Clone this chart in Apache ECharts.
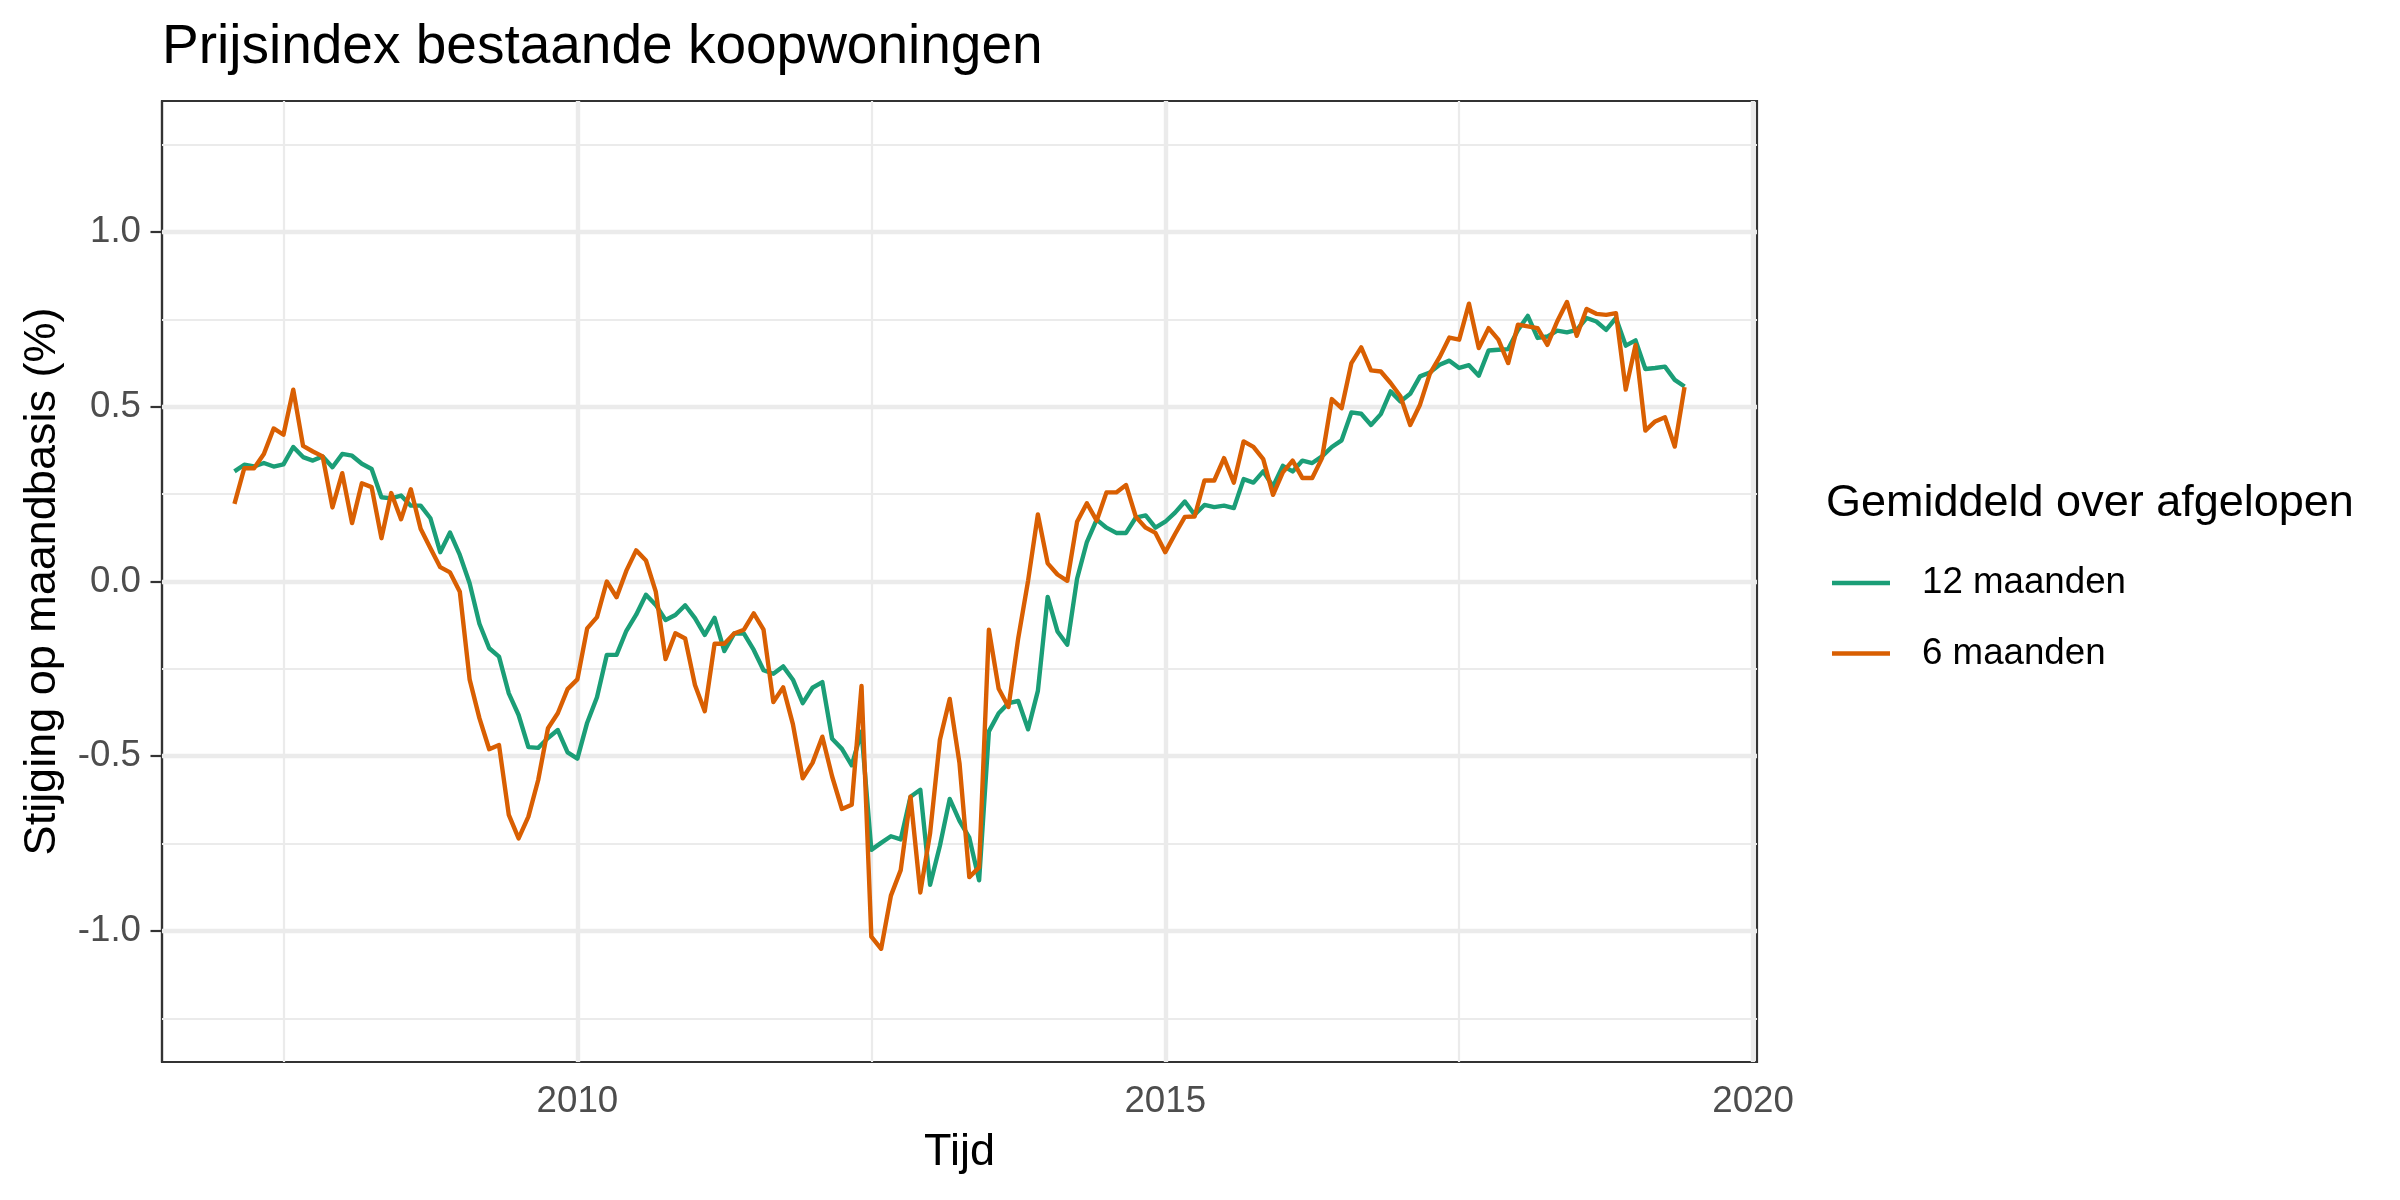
<!DOCTYPE html>
<html>
<head>
<meta charset="utf-8">
<script src="https://cdn.jsdelivr.net/npm/echarts@6/dist/echarts.min.js"></script>
<style>
html,body{margin:0;padding:0;background:#fff;}
#chart{width:2400px;height:1200px;}
</style>
</head>
<body>
<div id="chart"></div>
<script>
// Monthly series, first month Feb 2007, last month Jun 2019
const startYear = 2007;
const startMonth = 2;

const seriesNames = ['12 maanden', '6 maanden'];

const avg12 = [
  0.315, 0.334, 0.329, 0.339, 0.329, 0.335, 0.385, 0.356, 0.346, 0.358, 0.327,
  0.365, 0.360, 0.337, 0.322, 0.241, 0.238, 0.246, 0.217, 0.217, 0.181, 0.084, 0.140,
  0.076, -0.005, -0.121, -0.191, -0.215, -0.320, -0.382, -0.474, -0.476, -0.448, -0.425, -0.489,
  -0.507, -0.404, -0.331, -0.210, -0.210, -0.141, -0.095, -0.038, -0.067, -0.110, -0.096, -0.068,
  -0.105, -0.153, -0.104, -0.199, -0.149, -0.149, -0.196, -0.254, -0.264, -0.243, -0.281, -0.348,
  -0.304, -0.288, -0.450, -0.479, -0.526, -0.429, -0.768, -0.748, -0.729, -0.738, -0.616, -0.596,
  -0.868, -0.756, -0.622, -0.685, -0.733, -0.855, -0.429, -0.377, -0.348, -0.342, -0.423, -0.313,
  -0.044, -0.143, -0.181, 0.008, 0.113, 0.177, 0.154, 0.139, 0.139, 0.183, 0.189, 0.154,
  0.171, 0.197, 0.229, 0.191, 0.219, 0.213, 0.217, 0.210, 0.293, 0.283, 0.315, 0.272,
  0.331, 0.315, 0.346, 0.339, 0.358, 0.385, 0.404, 0.484, 0.480, 0.448, 0.479, 0.544,
  0.515, 0.537, 0.587, 0.598, 0.620, 0.632, 0.611, 0.619, 0.589, 0.661, 0.663, 0.665,
  0.720, 0.760, 0.697, 0.701, 0.718, 0.713, 0.720, 0.754, 0.744, 0.720, 0.754, 0.675,
  0.690, 0.608, 0.611, 0.615, 0.577, 0.558
];

const avg6 = [
  0.222, 0.324, 0.324, 0.365, 0.438, 0.420, 0.549, 0.388, 0.372, 0.358, 0.212,
  0.310, 0.167, 0.281, 0.270, 0.124, 0.253, 0.178, 0.264, 0.151, 0.095, 0.041, 0.026,
  -0.029, -0.280, -0.391, -0.480, -0.468, -0.668, -0.735, -0.673, -0.568, -0.420, -0.377, -0.308,
  -0.280, -0.134, -0.102, 0.000, -0.045, 0.031, 0.089, 0.060, -0.029, -0.222, -0.148, -0.163,
  -0.296, -0.371, -0.178, -0.178, -0.149, -0.138, -0.091, -0.138, -0.345, -0.303, -0.409, -0.563,
  -0.519, -0.444, -0.558, -0.651, -0.639, -0.299, -1.016, -1.051, -0.899, -0.826, -0.616, -0.890,
  -0.720, -0.453, -0.336, -0.520, -0.846, -0.818, -0.138, -0.307, -0.359, -0.161, 0.002, 0.192,
  0.052, 0.020, 0.002, 0.171, 0.224, 0.174, 0.255, 0.255, 0.276, 0.185, 0.154, 0.139,
  0.084, 0.136, 0.185, 0.186, 0.289, 0.289, 0.353, 0.283, 0.401, 0.385, 0.350, 0.248,
  0.312, 0.346, 0.296, 0.296, 0.353, 0.522, 0.496, 0.625, 0.670, 0.604, 0.601, 0.568,
  0.530, 0.448, 0.506, 0.594, 0.642, 0.698, 0.692, 0.795, 0.668, 0.725, 0.692, 0.625,
  0.735, 0.730, 0.725, 0.677, 0.744, 0.800, 0.703, 0.780, 0.766, 0.763, 0.768, 0.549,
  0.677, 0.432, 0.458, 0.470, 0.386, 0.556
];

const xTicks = [2010, 2015, 2020];
const xMinorGrid = [2007.5, 2012.5, 2017.5];
const yTicks = [-1.0, -0.5, 0.0, 0.5, 1.0];
const yMinorGrid = [-1.25, -0.75, -0.25, 0.25, 0.75, 1.25];

const FONT = '"Liberation Sans", Arial, Helvetica, sans-serif';

function toPairs(vals) {
  return vals.map(function (v, i) {
    const m = startMonth - 1 + i;
    const yr = startYear + Math.floor(m / 12) + (m % 12) / 12;
    return [yr, v];
  });
}

const gridColor = '#EBEBEB';
const gridLines = []
  .concat(yTicks.map(v => ({ yAxis: v, lineStyle: { color: gridColor, width: 4.4, type: 'solid' } })))
  .concat(yMinorGrid.map(v => ({ yAxis: v, lineStyle: { color: gridColor, width: 2.2, type: 'solid' } })))
  .concat(xTicks.map(v => ({ xAxis: v, lineStyle: { color: gridColor, width: 4.4, type: 'solid' } })))
  .concat(xMinorGrid.map(v => ({ xAxis: v, lineStyle: { color: gridColor, width: 2.2, type: 'solid' } })));

const chart = echarts.init(document.getElementById('chart'), null, { renderer: 'canvas' });

chart.setOption({
  animation: false,
  backgroundColor: '#ffffff',
  textStyle: { fontFamily: FONT },
  title: [
    {
      text: 'Prijsindex bestaande koopwoningen',
      left: 162, top: 20, padding: 0,
      textStyle: { fontFamily: FONT, fontSize: 55, fontWeight: 'normal', color: '#000000' }
    },
    {
      text: 'Gemiddeld over afgelopen',
      left: 1826, top: 481, padding: 0,
      textStyle: { fontFamily: FONT, fontSize: 45, fontWeight: 'normal', color: '#000000' }
    }
  ],
  legend: {
    orient: 'vertical',
    left: 1832, top: 561, padding: 0,
    itemWidth: 58, itemHeight: 4.4, itemGap: 26.5,
    icon: 'rect',
    selectedMode: false,
    data: seriesNames,
    textStyle: { fontFamily: FONT, fontSize: 36.7, color: '#000000', lineHeight: 44, padding: [0, 0, 0, 27] }
  },
  grid: {
    left: 162, right: 643, top: 101, bottom: 138,
    show: true, backgroundColor: '#ffffff', borderColor: '#333333', borderWidth: 2.2,
    containLabel: false
  },
  xAxis: {
    type: 'value',
    min: 2006.467, max: 2020.033,
    name: 'Tijd',
    nameLocation: 'middle', nameGap: 68,
    nameTextStyle: { fontFamily: FONT, fontSize: 45, color: '#000000' },
    axisLine: { show: true, lineStyle: { color: '#333333', width: 2.2 } },
    axisTick: { show: true, customValues: xTicks, length: 11.5, lineStyle: { color: '#333333', width: 2.2 } },
    axisLabel: { show: true, customValues: xTicks, margin: 21, fontFamily: FONT, fontSize: 36.7, color: '#4D4D4D',
      formatter: v => String(Math.round(v)) },
    splitLine: { show: false },
    minorTick: { show: false }
  },
  yAxis: {
    type: 'value',
    min: -1.375, max: 1.375,
    name: 'Stijging op maandbasis (%)',
    nameLocation: 'middle', nameGap: 97,
    nameTextStyle: { fontFamily: FONT, fontSize: 45, color: '#000000' },
    axisLine: { show: true, lineStyle: { color: '#333333', width: 2.2 } },
    axisTick: { show: true, customValues: yTicks, length: 11.5, lineStyle: { color: '#333333', width: 2.2 } },
    axisLabel: { show: true, customValues: yTicks, margin: 21, fontFamily: FONT, fontSize: 36.7, color: '#4D4D4D',
      formatter: v => Number(v).toFixed(1) },
    splitLine: { show: false }
  },
  series: [
    {
      name: '__grid',
      type: 'line',
      data: [],
      z: 1,
      silent: true,
      markLine: {
        silent: true, z: 1, animation: false,
        symbol: ['none', 'none'],
        label: { show: false },
        emphasis: { disabled: true },
        data: gridLines
      }
    },
    {
      name: seriesNames[0],
      type: 'line',
      data: toPairs(avg12),
      showSymbol: false, symbol: 'none',
      z: 3,
      color: '#1B9E77',
      lineStyle: { color: '#1B9E77', width: 4.4, join: 'round' }
    },
    {
      name: seriesNames[1],
      type: 'line',
      data: toPairs(avg6),
      showSymbol: false, symbol: 'none',
      z: 4,
      color: '#D95F02',
      lineStyle: { color: '#D95F02', width: 4.4, join: 'round' }
    }
  ]
});
</script>
</body>
</html>
